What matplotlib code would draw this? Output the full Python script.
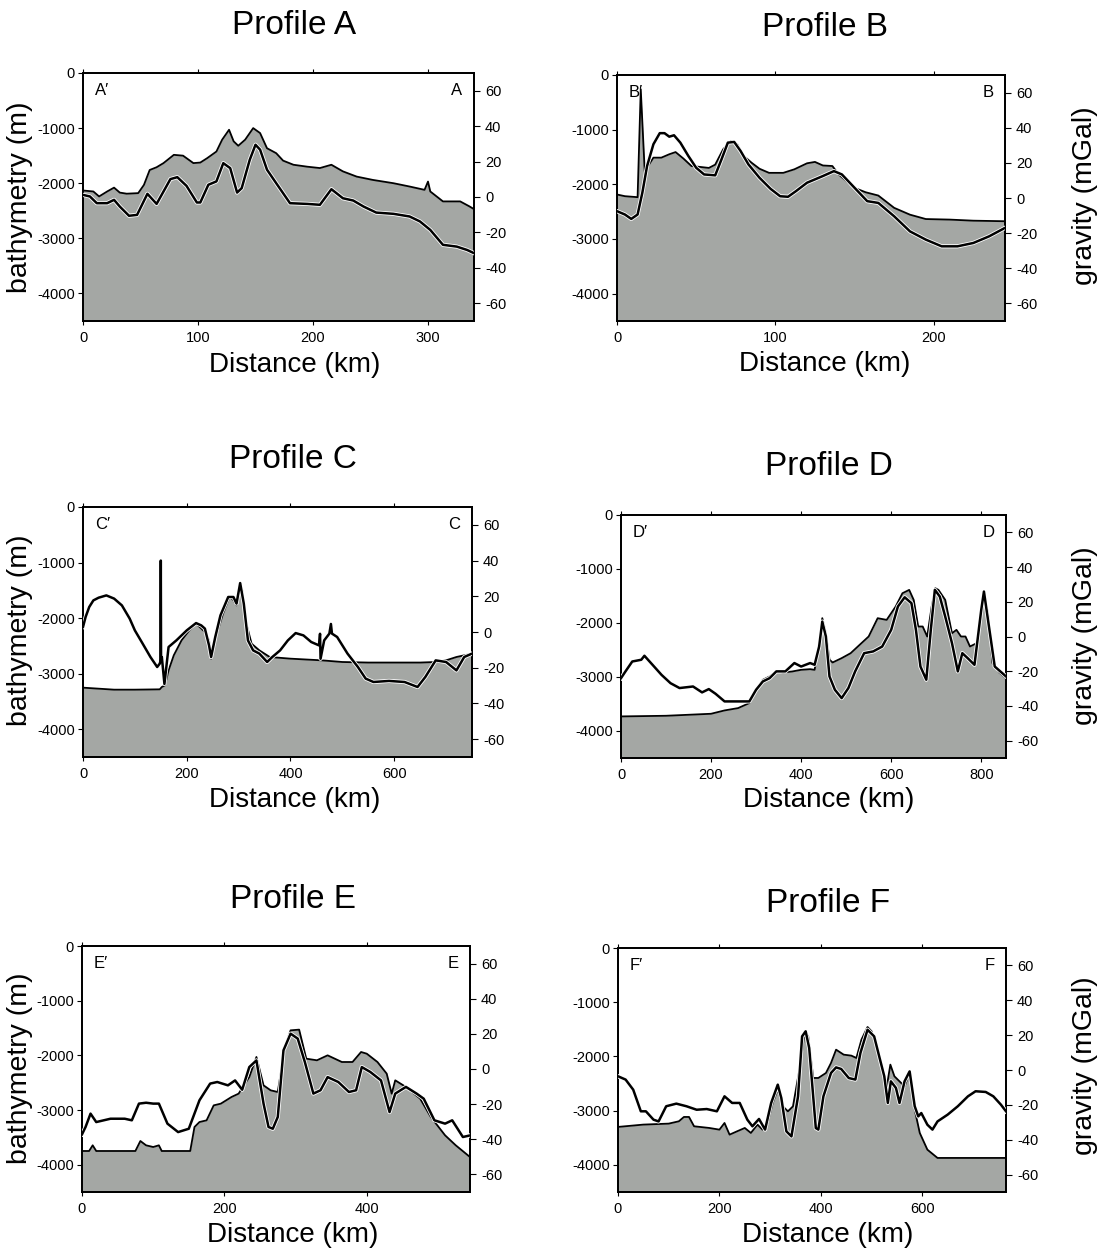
import matplotlib
matplotlib.use("Agg")
import matplotlib.pyplot as plt
import matplotlib.patheffects as pe
import numpy as np

plt.rcParams['font.family'] = ['Liberation Sans', 'DejaVu Sans']

# ---------------- Data ----------------
# Profile A
A_bx = [0, 9, 14, 21, 27, 32, 38, 48, 53, 58, 64, 70, 79, 87, 96, 102, 108, 116, 121, 127, 131, 135, 141, 148, 154, 160, 168, 174, 183, 195, 206, 216, 226, 238, 252, 270, 284, 297, 300, 302, 313, 328, 336, 340]
A_bz = [-2132, -2150, -2240, -2150, -2080, -2170, -2190, -2180, -2030, -1760, -1710, -1635, -1485, -1500, -1635, -1625, -1545, -1425, -1210, -1030, -1240, -1320, -1210, -1000, -1090, -1365, -1455, -1590, -1665, -1700, -1725, -1665, -1785, -1880, -1940, -2000, -2060, -2120, -1970, -2150, -2330, -2330, -2420, -2470]
A_gx = [0, 6, 12, 21, 27, 32, 40, 47, 56, 64, 70, 76, 82, 90, 99, 102, 109, 116, 122, 128, 134, 138, 145, 150, 154, 160, 168, 180, 195, 206, 216, 226, 235, 244, 255, 270, 284, 293, 302, 313, 325, 334, 340]
A_g = [1.2, 0.3, -3.5, -3.5, -1.6, -5.4, -10.6, -10.1, 1.8, -3.9, 3.1, 10.1, 11.2, 6.3, -3.1, -3.1, 6.9, 8.8, 19.1, 16.3, 2.5, 5.0, 21.0, 29.5, 26.7, 15.4, 7.8, -3.5, -3.9, -4.4, 4.4, -0.7, -2.0, -5.4, -8.8, -9.5, -11.0, -13.8, -18.6, -27.0, -28.0, -29.9, -31.7]

# Profile B
B_bx = [0, 5, 13, 15, 17.5, 23, 28, 33, 37, 42, 47, 52, 58, 62, 67, 72, 76, 80, 85, 90, 96, 105, 112, 120, 125, 130, 136, 140, 150, 157, 165, 175, 185, 195, 210, 225, 245]
B_bz = [-2186, -2217, -2235, -260, -1760, -1512, -1512, -1450, -1410, -1530, -1665, -1680, -1700, -1640, -1360, -1205, -1270, -1480, -1605, -1715, -1790, -1790, -1725, -1615, -1590, -1655, -1665, -1820, -2065, -2145, -2205, -2430, -2555, -2635, -2645, -2665, -2675]
B_gx = [0, 5, 9, 13, 16, 19, 23, 27, 30, 33, 36, 40, 45, 50, 55, 62, 66, 70, 74, 78, 83, 90, 97, 103, 108, 113, 120, 130, 137, 142, 150, 158, 165, 175, 185, 195, 205, 215, 225, 235, 245]
B_g = [-7.5, -9.4, -11.9, -9.4, 3.0, 18.2, 30.6, 36.9, 36.9, 34.9, 35.7, 31.5, 24.0, 17.2, 13.4, 12.9, 22.0, 31.5, 31.9, 26.8, 19.1, 11.5, 5.2, 1.0, 0.7, 3.9, 8.7, 12.5, 15.3, 13.4, 5.8, -1.8, -2.8, -10.4, -19.0, -23.7, -27.5, -27.5, -25.6, -21.8, -17.0]

# Profile C
C_bx = [0, 60, 100, 148, 152, 158, 165, 175, 190, 205, 218, 225, 235, 243, 247, 252, 260, 270, 283, 290, 296, 303, 307, 315, 325, 340, 360, 400, 460, 500, 550, 600, 650, 680, 700, 720, 750]
C_bz = [-3252, -3288, -3288, -3282, -3240, -3210, -2940, -2670, -2400, -2220, -2100, -2160, -2250, -2400, -2730, -2460, -2220, -1920, -1608, -1680, -1770, -1410, -1500, -2100, -2460, -2580, -2700, -2730, -2760, -2790, -2800, -2800, -2800, -2790, -2760, -2700, -2640]
C_gx = [0, 5, 12, 20, 30, 45, 60, 75, 90, 100, 115, 130, 143, 148, 149.5, 150, 150.5, 152, 157, 165, 180, 200, 218, 228, 235, 243, 247, 255, 265, 280, 290, 296, 303, 310, 318, 328, 340, 355, 365, 380, 395, 410, 425, 440, 455, 457, 458, 465, 475, 478, 480, 490, 510, 530, 545, 560, 590, 620, 645, 660, 680, 700, 720, 735, 750]
C_g = [2.8, 8.4, 14.0, 17.7, 19.2, 20.5, 18.7, 14.9, 7.5, 0.9, -6.5, -14.0, -19.6, -17.7, -16.0, 40.0, -16.0, -14.0, -29.1, -8.4, -4.7, 0.9, 5.0, 3.7, 1.9, -7.5, -14.0, -2.8, 9.3, 19.6, 19.6, 15.9, 27.4, 15.9, -4.7, -10.3, -12.1, -16.8, -14.0, -10.3, -4.7, -0.6, -1.9, -5.6, -7.5, -1.0, -15.0, -4.7, -0.9, 4.5, -0.9, -2.8, -12.1, -19.6, -26.1, -28.0, -27.4, -28.0, -30.8, -25.2, -15.9, -16.8, -21.5, -14.0, -12.1]

# Profile D
D_bx = [0, 100, 200, 230, 260, 285, 300, 315, 330, 345, 360, 380, 400, 420, 430, 440, 447, 455, 463, 470, 490, 510, 530, 550, 570, 590, 610, 625, 640, 650, 660, 670, 680, 690, 698, 705, 720, 735, 745, 755, 765, 775, 790, 805, 815, 825, 840, 855]
D_bz = [-3730, -3718, -3681, -3619, -3576, -3483, -3237, -3052, -2990, -2898, -2916, -2898, -2867, -2855, -2867, -2374, -1910, -2190, -2680, -2731, -2651, -2559, -2404, -2250, -1911, -1942, -1695, -1449, -1387, -1572, -2065, -2065, -2250, -1695, -1356, -1387, -1572, -2190, -2127, -2250, -2250, -2435, -2374, -1418, -1819, -2743, -2916, -3021]
D_gx = [0, 10, 25, 45, 52, 70, 90, 110, 130, 160, 180, 195, 210, 230, 260, 285, 300, 315, 330, 345, 365, 385, 400, 420, 430, 440, 447, 455, 463, 475, 490, 505, 520, 540, 560, 580, 600, 615, 630, 645, 655, 665, 678, 688, 697, 708, 720, 735, 748, 758, 770, 785, 800, 806, 815, 830, 855]
D_g = [-24.0, -20.1, -14.4, -13.4, -11.1, -16.3, -22.1, -26.9, -29.7, -28.8, -32.2, -30.3, -33.0, -37.4, -37.4, -37.4, -30.7, -25.9, -24.0, -20.1, -20.1, -15.3, -17.3, -15.3, -16.3, -5.8, 8.6, 0.0, -23.0, -30.7, -35.5, -29.7, -20.1, -9.6, -8.6, -5.8, 3.8, 17.3, 22.6, 19.2, 3.8, -17.3, -24.9, 3.8, 26.9, 23.0, 11.5, -3.8, -20.1, -9.6, -12.5, -16.3, 15.3, 25.9, 9.6, -17.3, -23.0]

# Profile E
E_bx = [0, 10, 15, 20, 50, 75, 82, 90, 100, 108, 112, 140, 152, 158, 165, 175, 185, 195, 210, 220, 235, 245, 255, 265, 275, 285, 293, 305, 315, 330, 345, 365, 380, 392, 400, 415, 428, 435, 440, 455, 475, 490, 510, 525, 545]
E_bz = [-3750, -3750, -3646, -3750, -3750, -3750, -3567, -3646, -3677, -3646, -3750, -3750, -3750, -3311, -3220, -3189, -2915, -2884, -2762, -2701, -2396, -2030, -2549, -2640, -2671, -1848, -1543, -1530, -2061, -2091, -2000, -2122, -2122, -1939, -1970, -2122, -2335, -2701, -2457, -2579, -2793, -3128, -3463, -3646, -3860]
E_gx = [0, 5, 12, 20, 40, 60, 70, 80, 90, 100, 108, 120, 135, 150, 165, 180, 190, 205, 215, 225, 235, 245, 255, 262, 268, 275, 283, 293, 303, 313, 325, 335, 345, 360, 375, 385, 393, 405, 420, 432, 440, 455, 470, 480, 495, 510, 520, 535, 545]
E_g = [-37.2, -33.0, -25.4, -30.2, -28.3, -28.3, -29.2, -19.7, -19.2, -19.7, -19.7, -31.1, -35.9, -34.0, -17.8, -8.3, -7.4, -9.3, -6.5, -11.8, 1.1, 4.9, -19.7, -33.0, -34.0, -27.3, 10.6, 20.1, 17.3, 4.0, -14.0, -12.1, -4.6, -7.4, -13.1, -12.1, 1.1, -1.7, -6.5, -24.5, -14.0, -10.2, -14.0, -16.9, -29.2, -31.1, -29.2, -38.7, -37.8]

# Profile F
F_bx = [0, 50, 100, 120, 130, 140, 150, 180, 200, 210, 220, 235, 250, 262, 275, 285, 295, 305, 315, 325, 335, 345, 360, 368, 375, 385, 395, 410, 420, 430, 445, 460, 470, 480, 492, 500, 510, 520, 530, 537, 545, 555, 565, 575, 585, 595, 610, 630, 700, 765]
F_bz = [-3300, -3257, -3239, -3196, -3116, -3116, -3288, -3319, -3350, -3227, -3442, -3380, -3319, -3411, -3257, -3350, -3227, -2858, -2612, -2920, -3012, -2920, -2120, -1537, -1629, -2397, -2397, -2305, -2120, -1875, -1967, -1985, -2028, -1690, -1457, -1537, -1813, -2182, -2551, -2151, -2366, -2459, -2551, -2305, -2981, -3411, -3719, -3872, -3872, -3872]
F_gx = [0, 15, 30, 45, 55, 70, 80, 95, 115, 135, 155, 175, 195, 210, 225, 240, 255, 265, 278, 290, 302, 315, 322, 332, 342, 355, 363, 370, 377, 390, 395, 405, 420, 430, 440, 455, 468, 478, 492, 505, 515, 525, 532, 538, 548, 555, 565, 575, 585, 592, 598, 610, 620, 630, 650, 670, 690, 705, 725, 740, 755, 765]
F_g = [-3.6, -5.5, -11.3, -23.7, -23.7, -28.5, -29.5, -20.8, -19.3, -20.8, -22.8, -22.4, -23.7, -15.1, -18.9, -18.9, -28.5, -32.3, -28.1, -34.2, -18.9, -8.4, -16.1, -35.2, -38.1, -15.1, 19.3, 22.2, 12.6, -33.3, -34.2, -15.1, -1.7, 1.5, 0.6, -4.6, -5.5, 9.8, 23.1, 19.3, 7.8, -3.6, -18.9, -6.5, -10.3, -18.9, -6.5, -0.8, -20.8, -26.6, -24.7, -31.4, -34.2, -29.5, -25.6, -20.8, -15.1, -12.2, -12.6, -15.1, -19.9, -23.7]

profiles = [
    ("A", A_bx, A_bz, A_gx, A_g, 340, [0, 100, 200, 300]),
    ("B", B_bx, B_bz, B_gx, B_g, 245, [0, 100, 200]),
    ("C", C_bx, C_bz, C_gx, C_g, 750, [0, 200, 400, 600]),
    ("D", D_bx, D_bz, D_gx, D_g, 855, [0, 200, 400, 600, 800]),
    ("E", E_bx, E_bz, E_gx, E_g, 545, [0, 200, 400]),
    ("F", F_bx, F_bz, F_gx, F_g, 765, [0, 200, 400, 600]),
]

bathy_ticks = [0, -1000, -2000, -3000, -4000]
grav_ticks = [60, 40, 20, 0, -20, -40, -60]

W, H = 1104, 1250
fig = plt.figure(figsize=(W / 100, H / 100), dpi=100)

# axes boxes in pixels: left, top, right, bottom
boxes = [
    (83, 73, 474, 321),
    (617, 75, 1005, 321),
    (83, 507, 472, 757),
    (621, 515, 1006, 758),
    (82, 946, 470, 1192),
    (618, 948, 1006, 1192),
]
# title / xlabel centres (pixels)
title_pos = [(294, 25), (825, 28), (293, 460), (829, 467), (293, 900), (828, 903)]
xlab_pos = [(295, 365), (825, 364), (295, 800), (829, 800), (293, 1235), (828, 1235)]
ylab_pos = [(20, 197), None, (20, 630), None, (20, 1068), None]
glab_pos = [None, (1085, 196), None, (1085, 636), None, (1085, 1066)]

fill_col = "#a4a7a4"

for i, (name, bx, bz, gx, g, xmax, xt) in enumerate(profiles):
    l, t, r, b = boxes[i]
    ax = fig.add_axes([l / W, 1 - b / H, (r - l) / W, (b - t) / H])
    ax.fill_between(bx, bz, -4500, color=fill_col, lw=0, zorder=1)
    ax.plot(bx, bz, color="black", lw=1.3, zorder=2)
    ax.set_xlim(0, xmax)
    ax.set_ylim(-4500, 0)
    ax.set_xticks(xt)
    ax.set_yticks(bathy_ticks)
    ax.set_yticklabels([str(v) for v in bathy_ticks])
    ax.tick_params(axis="both", direction="out", length=3.5, width=0.8,
                   labelsize=10.5, colors="black", pad=2.5)
    ax.tick_params(axis="x", top=True, labeltop=False, length=3, pad=4)
    for s in ax.spines.values():
        s.set_linewidth(1.3)

    ax2 = ax.twinx()
    ax2.set_ylim(-70, 70)
    ax2.set_yticks(grav_ticks)
    ax2.set_yticklabels([str(v) for v in grav_ticks])
    ax2.plot(gx, g, color="black", lw=1.8, zorder=3,
             path_effects=[pe.Stroke(linewidth=3.0, foreground="white"), pe.Normal()])
    ax2.tick_params(axis="y", direction="out", length=4, width=0.8,
                    labelsize=10.5, pad=4)
    for s in ax2.spines.values():
        s.set_linewidth(1.3)

    ax.text(0.03, 0.93, name + "\u2032", transform=ax.transAxes, fontsize=12,
            ha="left", va="center")
    ax.text(0.97, 0.93, name, transform=ax.transAxes, fontsize=12,
            ha="right", va="center")

    tx, ty = title_pos[i]
    fig.text(tx / W, 1 - ty / H, "Profile " + name, fontsize=24, ha="center", va="center")
    xx, xy = xlab_pos[i]
    fig.text(xx / W, 1 - xy / H, "Distance (km)", fontsize=20, ha="center", va="center")
    if ylab_pos[i] is not None:
        yx, yy = ylab_pos[i]
        fig.text(yx / W, 1 - yy / H, "bathymetry (m)", fontsize=20.5, rotation=90,
                 ha="center", va="center")
    if glab_pos[i] is not None:
        gxp, gyp = glab_pos[i]
        fig.text(gxp / W, 1 - gyp / H, "gravity (mGal)", fontsize=20.5, rotation=90,
                 ha="center", va="center")

fig.savefig("out.png", dpi=100, facecolor="white")
